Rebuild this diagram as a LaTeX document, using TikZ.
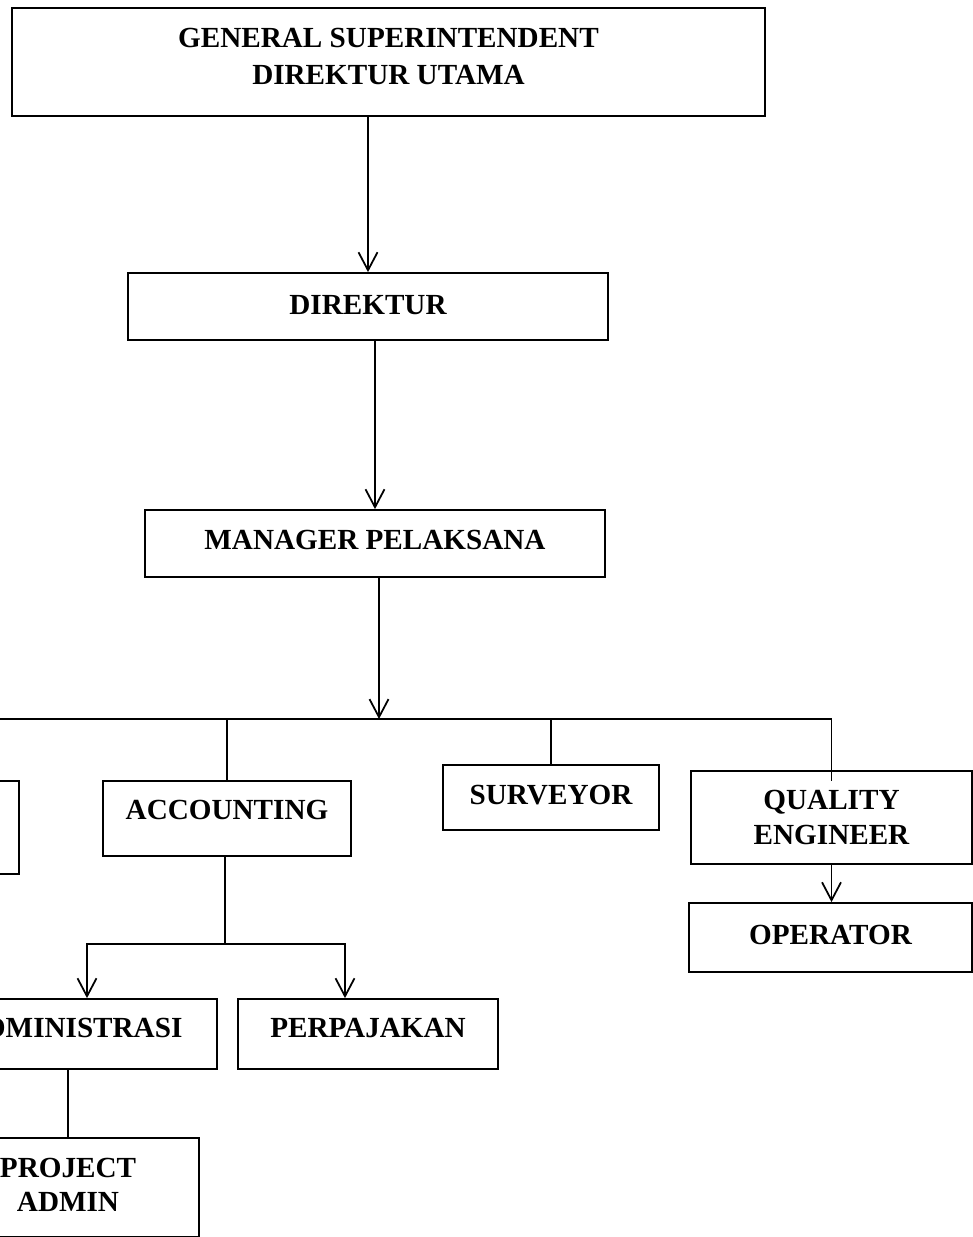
\documentclass[tikz,border=0pt]{standalone}
\usepackage{fontspec}
\setmainfont{Liberation Serif}
\usepackage{tikz}
\usetikzlibrary{arrows.meta}
\tikzset{box/.style={rectangle,draw,line width=1pt,inner sep=0pt,align=center,
    font=\bfseries\fontsize{16.6}{19.5}\selectfont}}

\begin{document}
\begin{tikzpicture}[>={Straight Barb[length=0.36cm,width=0.38cm]},x=0.02cm,y=-0.02cm,line width=1pt]
    \useasboundingbox (0,0) rectangle (973,1237);
    \clip (0,0) rectangle (973,1237);

    \node[box,minimum width=15.06cm,minimum height=2.16cm,text depth=0.22cm] (gsup) at (388.5,62) {GENERAL SUPERINTENDENT\\[1.5pt]DIREKTUR UTAMA};
    \node[box,minimum width=9.6cm,minimum height=1.34cm,text depth=0.06cm] (dir) at (368,306.5) {DIREKTUR};
    \node[box,minimum width=9.2cm,minimum height=1.34cm,text depth=0.14cm] (mgr) at (375,543.5) {MANAGER PELAKSANA};
    \node[box,minimum width=4.38cm,minimum height=1.86cm] (lft) at (-90.5,827.5) {};
    \node[box,minimum width=4.96cm,minimum height=1.5cm,text depth=0.34cm] (acc) at (227,818.5) {ACCOUNTING};
    \node[box,minimum width=4.32cm,minimum height=1.3cm,text depth=0.1cm] (surv) at (551,797.5) {SURVEYOR};
    \node[box,minimum width=5.62cm,minimum height=1.86cm] (qe) at (831.5,817.5) {QUALITY\\ENGINEER};
    \node[box,minimum width=5.66cm,minimum height=1.38cm,text depth=0.1cm] (op) at (830.5,937.5) {OPERATOR};
    \node[box,minimum width=5.76cm,minimum height=1.4cm,text depth=0.24cm] (adm) at (73,1034) {ADMINISTRASI};
    \node[box,minimum width=5.2cm,minimum height=1.4cm,text depth=0.24cm] (paj) at (368,1034) {PERPAJAKAN};
    \node[box,minimum width=5.24cm,minimum height=1.98cm,text depth=0.12cm] (padm) at (68,1187.5) {PROJECT\\ADMIN};

    \coordinate (bus) at (379,719);
    \coordinate (split) at (225,944);

    \draw [->] (gsup.south -| dir.north) to (dir.north);
    \draw [->] (dir.south -| mgr.north) to (mgr.north);
    \draw [->] (mgr.south -| bus) to (bus);
    \draw [] (lft.north) |- (qe.north |- bus) to ([yshift=-0.22cm]qe.north);
    \draw [] (acc.north |- bus) to (acc.north);
    \draw [] (surv.north |- bus) to (surv.north);
    \draw [->] (qe.south) to (qe.south |- op.north);
    \draw [] (acc.south -| split) to (split);
    \draw [->] (split) -| ([xshift=0.28cm]adm.north);
    \draw [->] (split) -| ([xshift=-0.46cm]paj.north);
    \draw [] (adm.south -| padm.north) to (padm.north);
\end{tikzpicture}
\end{document}
